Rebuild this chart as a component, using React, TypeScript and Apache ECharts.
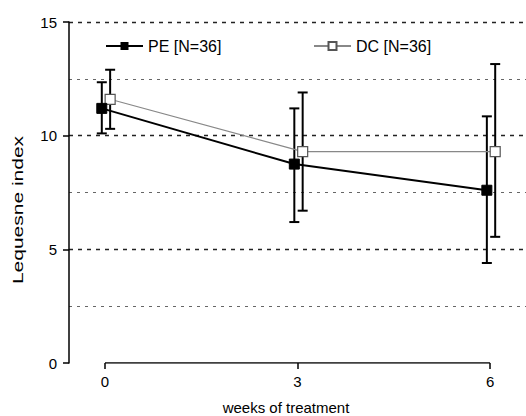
import React, { useEffect, useRef } from "react";
import * as echarts from "echarts";

const weeks = [0, 3, 6];
const peMean = [11.2, 8.75, 7.6];
const peLow = [10.1, 6.2, 4.4];
const peHigh = [12.35, 11.2, 10.85];
const dcMean = [11.6, 9.3, 9.3];
const dcLow = [10.3, 6.7, 5.55];
const dcHigh = [12.9, 11.9, 13.15];
const yTicks = [0, 5, 10, 15];
const peName = "PE [N=36]";
const dcName = "DC [N=36]";
const yTitle = "Lequesne index";
const xTitle = "weeks of treatment";

const PE_SHIFT = -0.05;
const DC_SHIFT = 0.08;
const FONT = "'Liberation Sans', Arial, sans-serif";

function errorSeries(name: string, shift: number, low: number[], high: number[]) {
  return {
    name: name + " err",
    type: "custom",
    silent: true,
    z: 2,
    data: weeks.map((w, i) => [w + shift, low[i], high[i]]),
    renderItem: (params: any, api: any) => {
      const x = api.value(0);
      const lo = api.coord([x, api.value(1)]);
      const hi = api.coord([x, api.value(2)]);
      const cap = 5;
      const style = { stroke: "#000", lineWidth: 2 };
      return {
        type: "group",
        children: [
          { type: "line", shape: { x1: lo[0], y1: lo[1], x2: hi[0], y2: hi[1] }, style },
          { type: "line", shape: { x1: hi[0] - cap, y1: hi[1], x2: hi[0] + cap, y2: hi[1] }, style },
          { type: "line", shape: { x1: lo[0] - cap, y1: lo[1], x2: lo[0] + cap, y2: lo[1] }, style },
        ],
      };
    },
  };
}

export default function App() {
  const ref = useRef<HTMLDivElement>(null);
  useEffect(() => {
    document.body.style.margin = "0";
    const chart = echarts.init(ref.current!, null, { renderer: "svg" });
    const legendText = { fontSize: 16, color: "#000", fontFamily: FONT };
    chart.setOption({
      animation: false,
      backgroundColor: "#fff",
      textStyle: { fontFamily: FONT },
      grid: { left: 69, right: 0, top: 22, bottom: 53, containLabel: false, outerBoundsMode: "none" },
      legend: [
        { data: [peName], left: 105, top: 38, padding: 0, itemWidth: 37, itemHeight: 10, textStyle: legendText },
        { data: [dcName], left: 313, top: 38, padding: 0, itemWidth: 37, itemHeight: 10, textStyle: legendText },
      ],
      graphic: [
        {
          type: "text",
          x: 18,
          y: 210,
          rotation: Math.PI / 2,
          scaleX: 1.5,
          style: {
            text: yTitle,
            fontSize: 14,
            fontFamily: FONT,
            fill: "#000",
            align: "center",
            verticalAlign: "middle",
          },
        },
      ],
      xAxis: {
        type: "value",
        min: -0.561,
        max: 6.56,
        name: xTitle,
        nameLocation: "middle",
        nameGap: 37,
        nameTextStyle: { fontSize: 15, color: "#000", padding: [0, 23, 0, 0], fontFamily: FONT },
        axisLine: { show: false },
        splitLine: { show: false },
        axisTick: {
          show: true,
          customValues: weeks,
          length: 6,
          lineStyle: { color: "#000", width: 1.5 },
        },
        axisLabel: {
          customValues: weeks,
          fontSize: 15,
          color: "#000",
          margin: 11,
          fontFamily: FONT,
        },
      },
      yAxis: {
        type: "value",
        min: 0,
        max: 15,
        interval: 5,
        axisLine: { show: true, onZero: false, lineStyle: { color: "#000", width: 1.5 } },
        axisTick: { show: true, length: 6, lineStyle: { color: "#000", width: 1.5 } },
        axisLabel: {
          fontSize: 15,
          color: "#000",
          margin: 12,
          fontFamily: FONT,
          formatter: (v: number) => (yTicks.includes(v) ? String(v) : ""),
        },
        splitLine: {
          show: true,
          showMinLine: false,
          lineStyle: { color: "#222", width: 1.3, type: [4, 5] },
        },
        minorTick: { show: false, splitNumber: 2 },
        minorSplitLine: {
          show: true,
          lineStyle: { color: "#666", width: 1.2, type: [3, 5] },
        },
      },
      series: [
        {
          name: "xaxis",
          type: "line",
          silent: true,
          symbol: "none",
          z: 1,
          lineStyle: { color: "#000", width: 1.5 },
          data: [
            [weeks[0], 0],
            [weeks[weeks.length - 1], 0],
          ],
        },
        errorSeries(peName, PE_SHIFT, peLow, peHigh),
        errorSeries(dcName, DC_SHIFT, dcLow, dcHigh),
        {
          name: dcName,
          type: "line",
          z: 3,
          symbol: "rect",
          symbolSize: 10,
          lineStyle: { color: "#888", width: 1.2 },
          itemStyle: { color: "#fff", borderColor: "#555", borderWidth: 1.2 },
          data: weeks.map((w, i) => [w + DC_SHIFT, dcMean[i]]),
        },
        {
          name: peName,
          type: "line",
          z: 4,
          symbol: "rect",
          symbolSize: 10,
          lineStyle: { color: "#000", width: 2 },
          itemStyle: { color: "#000", borderColor: "#000" },
          data: weeks.map((w, i) => [w + PE_SHIFT, peMean[i]]),
        },
      ],
    });
    return () => chart.dispose();
  }, []);
  return <div ref={ref} style={{ width: 526, height: 416 }} />;
}
